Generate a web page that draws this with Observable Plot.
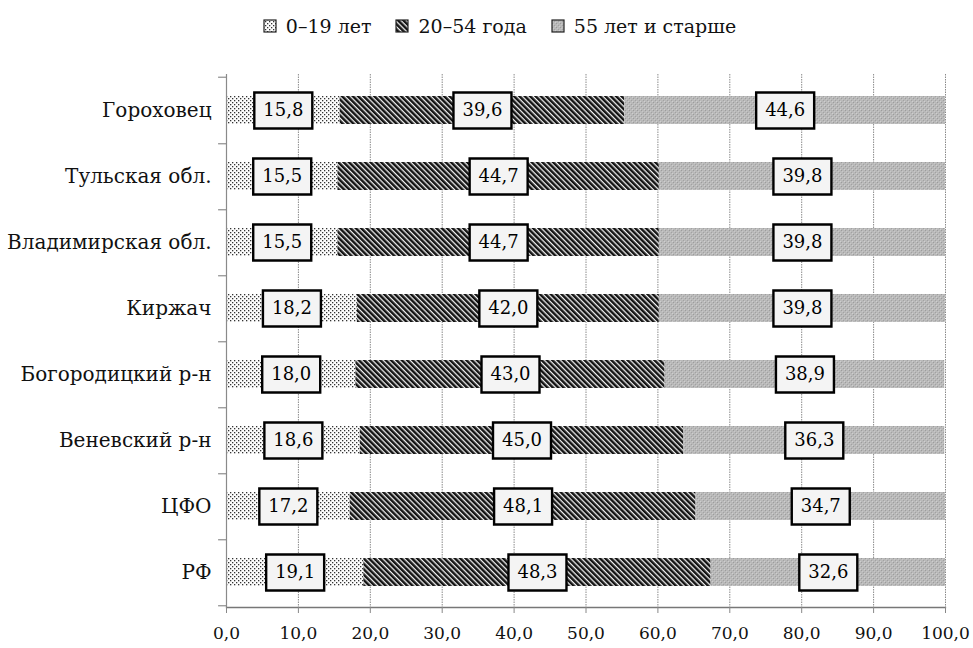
<!DOCTYPE html>
<html>
<head>
<meta charset="utf-8">
<script src="https://cdn.jsdelivr.net/npm/d3@7"></script>
<script src="https://cdn.jsdelivr.net/npm/@observablehq/plot@0.6"></script>
<style>
  html, body { margin: 0; padding: 0; background: #fff; }
  body { width: 973px; height: 648px; overflow: hidden; font-family: "DejaVu Serif", serif; }
  #legend { height: 46px; display: flex; justify-content: center; align-items: center; padding: 6px 0 0 26px; box-sizing: border-box; font-size: 19px; color: #111; }
  #legend .item { display: flex; align-items: center; margin: 0 12px; }
  #legend svg { margin-right: 9px; }
  #chart svg, #chart svg text { font-family: "DejaVu Serif", serif !important; }
</style>
</head>
<body>
<div id="legend"></div>
<div id="chart"></div>
<script>
// ---- data ----
const categories = ["Гороховец", "Тульская обл.", "Владимирская обл.", "Киржач", "Богородицкий р-н", "Веневский р-н", "ЦФО", "РФ"];
const groups = ["0–19 лет", "20–54 года", "55 лет и старше"];
const young = [15.8, 15.5, 15.5, 18.2, 18.0, 18.6, 17.2, 19.1];
const middle = [39.6, 44.7, 44.7, 42.0, 43.0, 45.0, 48.1, 48.3];
const old = [44.6, 39.8, 39.8, 39.8, 38.9, 36.3, 34.7, 32.6];
const xTicks = [0, 10, 20, 30, 40, 50, 60, 70, 80, 90, 100];

const series = [young, middle, old];
const rows = categories.flatMap((c, i) => groups.map((g, j) => ({category: c, group: g, value: series[j][i]})));

const locale = d3.formatLocale({decimal: ",", thousands: " ", grouping: [3], currency: ["", ""]});
const fmt = locale.format(".1f");
const patternIds = ["p0", "p1", "p2"];

const boxSymbol = {
  draw(ctx) {
    ctx.moveTo(-29, -18); ctx.lineTo(29, -18); ctx.lineTo(29, 18); ctx.lineTo(-29, 18); ctx.closePath();
  }
};

const chart = Plot.plot({
  width: 973,
  height: 602,
  marginTop: 28,
  marginBottom: 41,
  marginLeft: 226,
  marginRight: 28,
  style: {fontFamily: "DejaVu Serif, serif", fontSize: "20px", background: "#fff", color: "#111"},
  x: {domain: [0, 100], label: null},
  y: {domain: categories, paddingInner: 0.58, paddingOuter: 0.29, label: null},
  color: {domain: groups, range: patternIds.map(id => `url(#${id})`)},
  marks: [
    Plot.ruleX(xTicks.slice(1), {stroke: "#8a8a8a", strokeWidth: 1, strokeDasharray: "1.5,1"}),
    Plot.barX(rows, Plot.stackX({x: "value", y: "category", z: "group", fill: "group"})),
    Plot.ruleX([0], {stroke: "#8a8a8a", strokeWidth: 1.2}),
    Plot.frame({anchor: "bottom", stroke: "#777", strokeWidth: 1.3, strokeDasharray: "2,1"}),
    Plot.ruleY(categories, {y: d => d, x1: -1.1, x2: 0, dy: 33.3, stroke: "#777"}),
    Plot.ruleY(categories.slice(0, 1), {y: d => d, x1: -1.1, x2: 0, dy: -33.3, stroke: "#777"}),
    Plot.axisY({tickSize: 0, tickPadding: 15, fontSize: 20, label: null}),
    Plot.axisX({ticks: xTicks, tickFormat: fmt, tickSize: 6, stroke: "#888", tickPadding: 13, fontSize: 17, label: null}),
    Plot.dot(rows, Plot.stackX({x: "value", y: "category", z: "group", symbol: boxSymbol, r: 5, fill: "#f4f4f4", stroke: "#000", strokeWidth: 2.4})),
    Plot.text(rows, Plot.stackX({x: "value", y: "category", z: "group", text: d => fmt(d.value), fontSize: 18, fill: "#000"}))
  ]
});

// patterns for the three age groups
const defs = d3.select(chart).insert("defs", ":first-child");
const p0 = defs.append("pattern").attr("id", "p0").attr("patternUnits", "userSpaceOnUse").attr("width", 4).attr("height", 4);
p0.append("rect").attr("width", 4).attr("height", 4).attr("fill", "#fdfdfd");
p0.append("rect").attr("x", 0).attr("y", 0).attr("width", 1.3).attr("height", 1.3).attr("fill", "#333");
p0.append("rect").attr("x", 2).attr("y", 2).attr("width", 1.3).attr("height", 1.3).attr("fill", "#333");
const p1 = defs.append("pattern").attr("id", "p1").attr("patternUnits", "userSpaceOnUse").attr("width", 3.8).attr("height", 3.8).attr("patternTransform", "rotate(-45)");
p1.append("rect").attr("width", 3.8).attr("height", 3.8).attr("fill", "#f2f2f2");
p1.append("rect").attr("width", 2.5).attr("height", 3.8).attr("fill", "#141414");
const p2 = defs.append("pattern").attr("id", "p2").attr("patternUnits", "userSpaceOnUse").attr("width", 4).attr("height", 4);
p2.append("rect").attr("width", 4).attr("height", 4).attr("fill", "#b9b9b9");
p2.append("rect").attr("x", 1).attr("y", 0).attr("width", 1).attr("height", 1).attr("fill", "#9c9c9c");
p2.append("rect").attr("x", 3).attr("y", 2).attr("width", 1).attr("height", 1).attr("fill", "#a2a2a2");
p2.append("rect").attr("x", 0).attr("y", 3).attr("width", 1).attr("height", 1).attr("fill", "#cfcfcf");
p2.append("rect").attr("x", 2).attr("y", 1).attr("width", 1).attr("height", 1).attr("fill", "#c8c8c8");

document.getElementById("chart").appendChild(chart);

// legend
const legend = d3.select("#legend");
groups.forEach((g, i) => {
  const item = legend.append("div").attr("class", "item");
  const s = item.append("svg").attr("width", 14).attr("height", 14);
  s.append("rect").attr("x", 1).attr("y", 1).attr("width", 12).attr("height", 12)
    .attr("fill", `url(#${patternIds[i]})`).attr("stroke", "#222").attr("stroke-width", 1.2);
  item.append("span").text(g);
});
</script>
</body>
</html>
